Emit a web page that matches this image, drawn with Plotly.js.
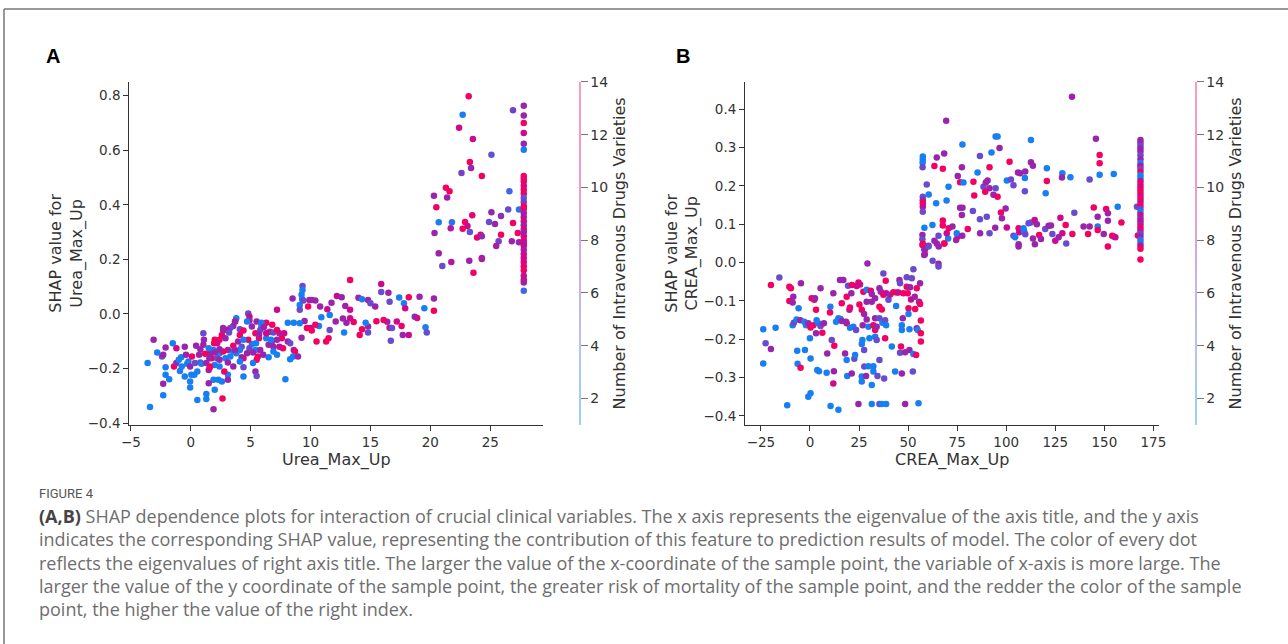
<!DOCTYPE html>
<html>
<head>
<meta charset="utf-8">
<script src="https://cdn.plot.ly/plotly-3.0.1.min.js"></script>
<style>
html,body{margin:0;padding:0;background:#fff;}
#chart{width:1288px;height:644px;}
</style>
</head>
<body>
<div id="chart"></div>
<script>
// ================= Panel A: Urea_Max_Up =================
// upper scattered points (x > 20)
const urea_hi_x = [
23.2,22.7,27.8,26.9,27.8,27.8,27.8,27.8,27.8,22.4,
23.55,25.1,23.3,23.4,22.6,24.3,21.3,21.6,20.3,21.4,
26.6,20.5,20.7,21.8,23.5,22.9,23.1,22.7,23.3,20.35,
21.7,25.1,25.9,26.5,27.4,24.9,25.4,26.9,27.3,25.9,
24.2,23.9,24.3,25.7,25.5,26.8,27.4,20.7,24.3,21.0,
21.75,23.25,23.6,24.3];
const urea_hi_y = [
0.798,0.73,0.763,0.746,0.727,0.70,0.663,0.624,0.602,0.682,
0.641,0.583,0.557,0.535,0.516,0.505,0.462,0.45,0.433,0.427,
0.45,0.391,0.336,0.336,0.362,0.337,0.322,0.312,0.30,0.297,
0.314,0.373,0.359,0.383,0.383,0.337,0.33,0.333,0.297,0.29,
0.29,0.28,0.285,0.266,0.249,0.266,0.263,0.222,0.205,0.176,
0.19,0.195,0.151,0.201];
const urea_hi_c = [
13,2,7.5,6,7.5,13,10,7.5,2,10,
10,5,13,7.5,6,13,13,13,7.5,8,
4,13,2,3,12,13,10,13,5,7.5,
8.5,7.5,7,5.5,3,5.5,7.5,13,13,13,
13,12,7,6,8,7.5,7.5,8,8,5.5,
9,8,12.5,8];
// capped column at x ≈ 27.8
const urea_col_x = [
27.8,27.8,27.8,27.8,27.8,27.8,27.8,27.8,27.8,27.8,
27.8,27.8,27.8,27.8,27.8,27.8,27.8,27.8,27.8,27.8,
27.8,27.8,27.8,27.8,27.8,27.8,27.8,27.8,27.8,27.8];
const urea_col_y = [
0.505,0.495,0.485,0.47,0.455,0.44,0.425,0.41,0.395,0.385,
0.37,0.355,0.34,0.325,0.31,0.30,0.285,0.27,0.26,0.25,
0.235,0.22,0.205,0.19,0.175,0.16,0.14,0.125,0.115,0.085];
const urea_col_c = [
13,12,13,10,13,12,5,6,13,13,
8,9,10,8,11,7.5,10,12,9,10,
8,10,11,10,12,13,9,10,8,4];
// middle band (x 7 to 21)
const urea_mid_x = [
13.3,15.9,9.33,9.33,9.25,9.3,9.1,9.1,8.5,9.4,
9.9,10.1,10.4,9.8,10.8,11.4,11.75,12.2,12.6,12.9,
13.3,14.0,14.3,14.8,15.0,15.4,15.9,16.5,16.6,17.4,
17.8,18.2,17.9,19.1,19.5,20.3,20.3,19.6,19.7,18.9,
18.7,18.2,17.7,17.6,17.2,16.6,16.7,16.8,16.4,16.1,
15.5,14.8,14.6,14.3,14.1,14.8,13.6,13.3,13.0,12.8,
12.7,12.1,11.6,11.5,11.3,11.6,10.9,10.7,10.4,10.0,
10.1,9.7,9.5,9.1,8.6,10.5,9.25,8.95,8.3,7.9,
7.2,8.1];
const urea_mid_y = [
0.124,0.11,0.102,0.088,0.07,0.054,0.033,0.015,0.057,0.049,
0.051,0.051,0.049,0.027,0.027,0.017,0.041,0.066,0.061,0.029,
0.015,0.059,0.054,0.051,0.039,0.027,0.08,0.078,0.045,0.06,
0.039,0.061,0.021,0.063,0.021,0.057,0.012,-0.049,-0.068,-0.015,
-0.01,-0.077,-0.077,-0.044,-0.028,-0.051,-0.098,-0.052,-0.029,-0.022,
-0.027,-0.046,-0.032,-0.056,-0.077,-0.068,-0.03,-0.016,-0.032,-0.068,
-0.017,-0.028,-0.059,-0.089,-0.101,-0.004,-0.012,-0.044,-0.04,-0.052,
-0.061,-0.052,-0.026,-0.034,-0.032,-0.101,-0.087,-0.156,-0.166,-0.239,
0.015,-0.032];
const urea_mid_c = [
13,10,5.5,2,2,2,2,5.5,7.5,5.5,
7.5,7.5,7.5,13,7.5,10,7.5,10,7.5,7.5,
10,7.5,2,7.5,5.5,7.5,5.5,7.5,5.5,2,
2,13,10,7.5,2,7.5,13,2,5.5,13,
7.5,10,7.5,13,10,10,5.5,5.5,7.5,13,
13,7.5,2,13,13,5.5,13,10,7.5,2,
7.5,7.5,5.5,13,13,2,2,2,13,10,
13,13,7.5,2,2,13,7.5,7.5,2,2,
10,2];
// lower band (x −4 to 9)
const urea_lo_x = [
7.4,7.8,7.6,7.2,8.1,8.3,8.6,8.7,8.55,7.7,
7.4,6.9,6.75,7.2,6.5,6.5,6.3,6.8,6.3,5.9,
5.8,5.4,5.7,5.45,5.1,4.9,5.4,5.8,5.6,5.5,
5.2,5.4,5.5,4.4,4.25,4.4,4.4,4.1,3.8,3.55,
3.3,3.1,3.55,3.95,4.1,4.8,4.9,4.9,3.8,3.7,
3.55,3.3,3.0,2.7,2.6,2.9,2.4,2.2,2.0,1.9,
1.6,1.75,2.2,2.4,2.7,2.9,3.1,2.4,2.0,1.6,
1.5,1.9,2.3,2.6,3.1,3.1,2.0,1.5,1.3,1.3,
0.55,2.65,1.9,-3.4,-3.6,-2.8,-3.1,-2.4,-2.3,-2.1,
-1.5,-1.2,-2.1,-2.1,-1.8,-2.3,-2.3,-1.4,-1.2,-1.0,
-0.8,-0.75,-0.9,-0.5,-0.5,-0.4,-0.2,-0.3,-0.05,0.1,
-0.05,-0.05,0.05,0.3,0.55,0.45,0.35,0.8,0.7,0.8,
1.05,1.1,1.2,1.05,0.9,1.3,1.5,1.55,1.6,1.95,
2.0,2.4,2.7,3.2,3.7,4.1,4.4,4.7,5.1,5.5,
5.9,6.1,6.6,6.9,7.2,4.8,4.4,4.25,4.7,4.1,
3.7,5.7,6.3,6.7,6.9,6.05,5.2,3.55,2.8,2.4];
const urea_lo_y = [
-0.071,-0.071,-0.089,-0.095,-0.101,-0.107,-0.132,-0.138,-0.156,-0.126,
-0.12,-0.12,-0.105,-0.15,-0.159,-0.113,-0.089,-0.04,-0.032,-0.044,
-0.059,-0.071,-0.089,-0.107,-0.11,-0.126,-0.132,-0.132,-0.156,-0.168,
-0.18,-0.211,-0.227,-0.162,-0.159,-0.229,-0.195,-0.174,-0.144,-0.138,
-0.156,-0.132,-0.117,-0.101,-0.077,0.002,-0.01,-0.024,-0.016,-0.028,
-0.044,-0.052,-0.059,-0.052,-0.077,-0.089,-0.095,-0.107,-0.095,-0.132,
-0.144,-0.162,-0.162,-0.144,-0.138,-0.162,-0.178,-0.193,-0.187,-0.193,
-0.205,-0.241,-0.241,-0.248,-0.223,-0.241,-0.278,-0.254,-0.293,-0.312,
-0.315,-0.31,-0.349,-0.341,-0.18,-0.141,-0.095,-0.156,-0.15,-0.123,
-0.107,-0.126,-0.195,-0.223,-0.239,-0.256,-0.298,-0.193,-0.18,-0.168,
-0.159,-0.193,-0.209,-0.229,-0.12,-0.15,-0.174,-0.183,-0.193,-0.156,
-0.248,-0.27,-0.223,-0.223,-0.211,-0.117,-0.18,-0.178,-0.15,-0.129,
-0.113,-0.095,-0.146,-0.071,-0.183,-0.18,-0.126,-0.162,-0.195,-0.107,
-0.141,-0.129,-0.059,-0.068,-0.028,-0.056,-0.061,-0.028,-0.046,-0.028,
-0.032,-0.049,-0.065,-0.068,-0.059,-0.095,-0.095,-0.12,-0.144,-0.132,
-0.132,-0.074,-0.071,-0.095,-0.138,-0.15,-0.141,-0.193,-0.211,-0.168];
const urea_lo_c = [
7.5,10,13,7.5,7.5,5.5,7.5,13,2,13,
10,7.5,7.5,2,2,7.5,2,13,13,2,
5.5,13,13,2,2,5.5,2,7.5,13,13,
2,7.5,5.5,13,7.5,2,5.5,2,2,2,
2,7.5,13,7.5,13,5.5,10,7.5,2,13,
7.5,5.5,10,7.5,13,7.5,13,10,13,2,
7.5,13,5.5,2,13,2,7.5,2,2,13,
7.5,2,2,2,2,7.5,2,7.5,2,2,
2,13,7.5,2,2,2,7.5,5.5,7.5,7.5,
2,10,2,2,2,7.5,2,13,7.5,2,
2,2,2,2,7.5,7.5,2,2,7.5,13,
2,2,2,2,2,7.5,5.5,5.5,7.5,7.5,
7.5,7.5,13,5.5,2,7.5,2,7.5,13,13,
7.5,7.5,7.5,5.5,7.5,5.5,13,2,7.5,7.5,
2,7.5,7.5,5.5,13,13,2,5.5,7.5,2,
7.5,7.5,10,2,2,7.5,7.5,7.5,13,7.5];

// ================= Panel B: CREA_Max_Up =================
// upper scattered points (0.15 – 0.45)
const crea_hi_x = [
133.5,69.4,77.7,94.6,95.6,96.6,112.6,145.7,147.6,147.6,
68.4,64.6,57.5,57.5,57.4,57.4,63.4,67.7,77.4,86.6,
92.5,85.4,91.5,101.7,112.6,113.6,120.7,128.6,132.7,128.4,
142.5,147.6,154.8,59.5,60.5,64.3,69.6,70.6,75.3,76.5,
78.2,83.3,83.7,88.4,89.6,90.5,91.5,89.3,93.5,94.6,
95.6,100.3,102.4,103.7,106,107.1,109.7,109.5,109.5,120.1,
120.7];
const crea_hi_y = [
0.433,0.37,0.308,0.329,0.329,0.299,0.32,0.323,0.281,0.259,
0.285,0.274,0.277,0.27,0.261,0.249,0.252,0.245,0.249,0.278,
0.287,0.235,0.249,0.263,0.262,0.253,0.246,0.233,0.223,0.222,
0.217,0.229,0.231,0.204,0.178,0.155,0.162,0.198,0.226,0.21,
0.209,0.211,0.175,0.198,0.209,0.214,0.194,0.185,0.177,0.194,
0.172,0.214,0.217,0.202,0.235,0.233,0.238,0.221,0.186,0.181,
0.213];
const crea_hi_c = [
7.5,7.5,2,2,2,7.5,2,7.5,13,13,
7.5,7.5,2,2,2,5.5,13,13,7.5,5.5,
2,2,13,13,7.5,7.5,2,2,2,7.5,
5.5,2,2,5.5,2,2,2,2,7.5,13,
2,13,13,5.5,7.5,7.5,7.5,13,7.5,5.5,
13,2,5.5,5.5,7.5,7.5,7.5,2,5.5,2,
13];
// lower band of the upper cluster (−0.01 – 0.15)
const crea_band_x = [
57.5,57.5,57.5,57.5,57.5,58.3,57.3,57.3,57.3,58.5,
58.5,60.4,62.4,63.4,64.6,65.5,65.6,67.7,67.7,68.5,
70.4,70.7,69.7,72.6,74.5,75.3,74.8,77.6,80.4,76.5,
77.7,83,77.4,86.6,86.7,90.1,91.5,94.4,97.3,97.8,
99.7,100.3,103.7,104.6,106.3,106.6,106.3,106.3,108.8,109.2,
109.7,111.4,112.6,114.5,115.6,113.6,114.6,116.8,117.7,119.9,
121.6,122.8,123.5,125,126.7,127.6,128.6,130.3,130.6,133.7,
134.7,139.4,142.5,141.7,144.6,146.6,146.6,146.6,149.7,150.9,
151.8,151.8,151.8,154,154.8,155.6,156.8,158.7,166.6,167.1,
57.5,58.3,58.2,60.4,62.5,65.5,65.5,68.4];
const crea_band_y = [
0.172,0.163,0.155,0.146,0.133,0.091,0.072,0.061,0.046,0.033,
0.022,0.044,0.098,0.057,0.05,0.07,0.042,0.11,0.097,0.05,
0.063,0.09,0.077,0.094,0.059,0.068,0.077,0.07,0.088,0.143,
0.143,0.135,0.124,0.113,0.077,0.12,0.077,0.091,0.131,0.116,
0.141,0.092,0.07,0.066,0.09,0.079,0.048,0.042,0.09,0.081,
0.074,0.103,0.105,0.111,0.1,0.063,0.048,0.072,0.062,0.088,
0.096,0.097,0.075,0.057,0.066,0.117,0.077,0.098,0.05,0.075,
0.13,0.094,0.094,0.075,0.144,0.12,0.094,0.085,0.075,0.14,
0.129,0.109,0.042,0.07,0.068,0.066,0.146,0.105,0.146,0.071,
0.049,0.035,0.02,0.042,0.005,-0.003,-0.01,0.05];
const crea_band_c = [
5.5,7.5,13,10,5.5,2,7.5,5.5,13,7.5,
10,7.5,2,7.5,7.5,5.5,7.5,13,13,13,
2,13,10,7.5,7.5,10,2,7.5,13,7.5,
7.5,5.5,7.5,5.5,7.5,5.5,5.5,7.5,13,7.5,
7.5,10,5.5,2,13,10,7.5,7.5,2,2,
5.5,5.5,5.5,10,7.5,7.5,7.5,13,7.5,5.5,
7.5,7.5,5.5,10,7.5,10,10,13,5.5,13,
5.5,7.5,7.5,13,13,7.5,2,13,7.5,13,
7.5,7.5,13,13,13,10,2,13,5.5,13,
13,7.5,7.5,5.5,5.5,7.5,5.5,13];
// capped column at x ≈ 168
const crea_col_x = [
168.4,168.4,168.4,168.4,168.4,168.4,168.4,168.4,168.4,168.4,
168.4,168.4,168.4,168.4,168.4,168.4,168.4,168.4,168.4,168.4,
168.4,168.4,168.4,168.4,168.4,168.4,168.4,168.4,168.4,168.4,
168.4,168.4,168.4,168.4,168.4,168.4,168.4];
const crea_col_y = [
0.32,0.313,0.305,0.298,0.29,0.28,0.27,0.26,0.252,0.245,
0.237,0.228,0.22,0.212,0.204,0.196,0.188,0.18,0.172,0.164,
0.156,0.148,0.14,0.132,0.124,0.116,0.108,0.1,0.092,0.084,
0.076,0.068,0.06,0.052,0.044,0.036,0.008];
const crea_col_c = [
7.5,7.5,5.5,7.5,7.5,5.5,7.5,2,10,5.5,
13,2,2,10,13,10,13,13,10,13,
10,13,5.5,2,10,7.5,10,7.5,13,10,
5.5,7.5,4,2,10,13,13];
// lower cluster (x −25 to 57)
const crea_lo_x = [
-23.8,-23.8,-22.6,-19.9,-19.9,-17.5,-15.6,-11.6,-10.5,-9.7,
-10.5,-8.8,-8.5,-8.8,-8.2,-6.8,-6.5,-6.3,-5.8,-4.9,
-4.6,-4.8,-2.9,-2.0,-2.55,-0.85,0,0.3,-0.85,0.3,
0.85,2.2,0.3,1.7,3.1,2.55,3.1,3.4,4.25,3.7,
4.6,5.4,5.4,6.3,7.1,8.5,8.8,10.4,10.2,10.5,
11.9,11.1,12.4,12.2,11.9,14.5,13.3,14.5,15.3,15.6,
16.2,16.2,17,17.9,18.7,19.4,18.7,18.4,18.7,19,
20.1,20.4,21.1,21.3,21.4,20.4,22.1,22.6,23,23.5,
23.8,24.7,25.2,24.7,25.5,26.4,26.7,26.4,26.4,26.4,
26.9,27.2,27.6,27.6,27.7,28.6,28.9,28.9,28.9,29.3,
29.8,29.8,30.3,31,31.5,31.5,31.5,31.5,32.3,32.3,
32.3,33.2,33.2,33.2,33.2,34,34,34.4,35.4,35.4,
35.4,35.4,35.4,36.1,36.6,36.6,36.9,37.4,37.4,37.8,
38.3,38.3,38.6,38.8,38.8,38.8,40,40.8,41.7,42.5,
43.4,43.9,44.2,45.1,45.6,45.9,45.9,46.4,46.8,46.8,
46.8,47.3,47.6,48.5,48.5,49.3,49.3,49.8,50.2,50.2,
50.7,50.7,51.5,51.9,52.4,52.7,53.4,53.6,54.1,54.4,
54.4,54.9,55.3,55.6,56.1,56.1,56.5,56.5,56.5,51,
52.7];
const crea_lo_y = [
-0.174,-0.263,-0.21,-0.058,-0.225,-0.17,-0.039,-0.372,-0.063,-0.067,
-0.1,-0.104,-0.089,-0.163,-0.157,-0.148,-0.23,-0.264,-0.119,-0.15,
-0.054,-0.274,-0.154,-0.163,-0.228,-0.158,-0.197,-0.25,-0.35,-0.341,
-0.093,-0.097,-0.169,-0.163,-0.123,-0.093,-0.184,-0.15,-0.158,-0.28,
-0.283,-0.067,-0.165,-0.183,-0.158,-0.287,-0.237,-0.115,-0.13,-0.374,
-0.08,-0.202,-0.217,-0.283,-0.315,-0.384,-0.154,-0.145,-0.045,-0.147,
-0.152,-0.106,-0.045,-0.237,-0.089,-0.06,-0.158,-0.154,-0.254,-0.296,
-0.123,-0.17,-0.08,-0.289,-0.058,-0.117,-0.167,-0.251,-0.241,-0.176,
-0.061,-0.052,-0.109,-0.369,-0.057,-0.123,-0.202,-0.212,-0.297,-0.31,
-0.163,-0.076,-0.134,-0.228,-0.271,-0.296,-0.071,-0.102,-0.148,-0.002,
-0.167,-0.27,-0.197,-0.073,-0.082,-0.102,-0.319,-0.369,-0.27,-0.284,
-0.163,-0.176,-0.145,-0.193,-0.093,-0.167,-0.202,-0.296,-0.067,-0.115,
-0.145,-0.254,-0.369,-0.076,-0.369,-0.122,-0.157,-0.028,-0.084,-0.302,
-0.15,-0.197,-0.047,-0.08,-0.163,-0.369,-0.097,-0.084,-0.219,-0.077,
-0.284,-0.113,-0.078,-0.078,-0.045,-0.054,-0.235,-0.219,-0.289,-0.163,
-0.176,-0.145,-0.08,-0.234,-0.369,-0.038,-0.063,-0.08,-0.119,-0.134,
-0.174,-0.228,-0.096,-0.041,-0.284,-0.238,-0.089,-0.121,-0.241,-0.067,
-0.171,-0.176,-0.367,-0.102,-0.054,-0.108,-0.151,-0.184,-0.206,-0.064,
-0.017];
const crea_lo_c = [
2,2,5.5,13,7.5,2,5.5,2,13,13,
13,7.5,7.5,2,5.5,2,2,2,2,7.5,
7.5,13,2,2,2,7.5,2,2,2,2,
13,13,13,13,13,7.5,7.5,2,2,2,
2,7.5,5.5,13,7.5,2,7.5,2,13,2,
7.5,5.5,13,7.5,10,2,2,2,7.5,2,
7.5,13,7.5,7.5,13,5.5,13,7.5,2,2,
7.5,2,7.5,7.5,13,13,2,5.5,2,5.5,
10,13,13,7.5,10,13,2,2,2,2,
7.5,13,7.5,5.5,5.5,7.5,2,7.5,7.5,7.5,
2,2,2,13,7.5,7.5,2,2,2,2,
13,13,7.5,2,7.5,7.5,5.5,5.5,7.5,13,
5.5,5.5,5.5,7.5,2,13,2,5.5,13,5.5,
5.5,13,13,10,2,2,5.5,7.5,2,13,
2,2,13,10,7.5,5.5,5.5,13,7.5,2,
2,7.5,13,7.5,7.5,5.5,13,13,13,2,
2,7.5,10,5.5,5.5,2,7.5,13,13,13,
7.5,2,2,7.5,7.5,13,13,13,13,7.5,
5.5];

// ================= texts =================
const colorbarTicks = [2, 4, 6, 8, 10, 12, 14];
const xTitleA = 'Urea_Max_Up';
const xTitleB = 'CREA_Max_Up';
const yTitleA = 'SHAP value for<br>Urea_Max_Up';
const yTitleB = 'SHAP value for<br>CREA_Max_Up';
const cbTitle = 'Number of Intravenous Drugs Varieties';
const panelLabels = ['A', 'B'];
const figLabel = 'FIGURE 4';
const captionLines = [
  '<b><span style="color:#444">(A,B)</span></b> SHAP dependence plots for interaction of crucial clinical variables. The x axis represents the eigenvalue of the axis title, and the y axis',
  'indicates the corresponding SHAP value, representing the contribution of this feature to prediction results of model. The color of every dot',
  'reflects the eigenvalues of right axis title. The larger the value of the x-coordinate of the sample point, the variable of x-axis is more large. The',
  'larger the value of the y coordinate of the sample point, the greater risk of mortality of the sample point, and the redder the color of the sample',
  'point, the higher the value of the right index.'
];

const urea_x = [].concat(urea_lo_x, urea_mid_x, urea_hi_x, urea_col_x);
const urea_shap = [].concat(urea_lo_y, urea_mid_y, urea_hi_y, urea_col_y);
const urea_drugs = [].concat(urea_lo_c, urea_mid_c, urea_hi_c, urea_col_c);
const crea_x = [].concat(crea_lo_x, crea_band_x, crea_hi_x, crea_col_x);
const crea_shap = [].concat(crea_lo_y, crea_band_y, crea_hi_y, crea_col_y);
const crea_drugs = [].concat(crea_lo_c, crea_band_c, crea_hi_c, crea_col_c);

// SHAP red_blue colormap (approx.)
const shapScale = [[0,'#008bfb'],[0.25,'rgb(73,99,228)'],[0.5,'rgb(155,36,173)'],[0.75,'rgb(223,0,135)'],[1,'#ff0051']];
const shapScaleFaded = [[0,'rgba(0,139,251,0.4)'],[0.25,'rgba(73,99,228,0.4)'],[0.5,'rgba(155,36,173,0.4)'],[0.75,'rgba(223,0,135,0.4)'],[1,'rgba(255,0,81,0.4)']];

const W = 1288, H = 644;
const px = v => v / W;
const py = v => 1 - v / H;

const FONT = 'DejaVu Sans, sans-serif';
const tickFont = {family: FONT, size: 13.5, color: '#333'};
const cbTickFont = {family: FONT, size: 14, color: '#333'};
const titleFont = {family: FONT, size: 16, color: '#333'};

function cbar(xpos) {
  return {
    x: px(xpos), xanchor: 'left', xpad: 0, ypad: 0,
    y: (py(425) + py(81.7)) / 2, yanchor: 'middle',
    lenmode: 'pixels', len: 343, thickness: 2, outlinewidth: 0,
    tickmode: 'array', tickvals: colorbarTicks,
    ticks: 'outside', ticklen: 7, tickcolor: '#777', tickwidth: 1,
    tickfont: cbTickFont,
    title: {text: cbTitle, side: 'right', font: titleFont}
  };
}

const traces = [
  {type: 'scatter', mode: 'markers', x: urea_x, y: urea_shap, xaxis: 'x', yaxis: 'y',
   marker: {size: 6.5, color: urea_drugs, cmin: 1, cmax: 14, colorscale: shapScale, showscale: false, line: {width: 0}},
   hoverinfo: 'x+y', showlegend: false},
  {type: 'scatter', mode: 'markers', x: [urea_x[0]], y: [urea_shap[0]], xaxis: 'x', yaxis: 'y',
   marker: {size: 1, opacity: 0, color: [urea_drugs[0]], cmin: 1, cmax: 14, colorscale: shapScaleFaded, showscale: true, colorbar: cbar(578.5)},
   hoverinfo: 'skip', showlegend: false},
  {type: 'scatter', mode: 'markers', x: crea_x, y: crea_shap, xaxis: 'x2', yaxis: 'y2',
   marker: {size: 6.5, color: crea_drugs, cmin: 1, cmax: 14, colorscale: shapScale, showscale: false, line: {width: 0}},
   hoverinfo: 'x+y', showlegend: false},
  {type: 'scatter', mode: 'markers', x: [crea_x[0]], y: [crea_shap[0]], xaxis: 'x2', yaxis: 'y2',
   marker: {size: 1, opacity: 0, color: [crea_drugs[0]], cmin: 1, cmax: 14, colorscale: shapScaleFaded, showscale: true, colorbar: cbar(1194.5)},
   hoverinfo: 'skip', showlegend: false}
];

const axBase = {
  showgrid: false, zeroline: false, showline: true, linecolor: '#333', linewidth: 1,
  ticks: 'outside', ticklen: 5, tickcolor: '#333', tickwidth: 1, tickfont: tickFont, mirror: false
};

const annotations = [
  {text: '<b>' + panelLabels[0] + '</b>', x: px(44), y: py(56), xref: 'paper', yref: 'paper', xanchor: 'left', yanchor: 'middle', showarrow: false, font: {family: 'Liberation Sans, Arial, sans-serif', size: 20, color: '#000'}},
  {text: '<b>' + panelLabels[1] + '</b>', x: px(674), y: py(56), xref: 'paper', yref: 'paper', xanchor: 'left', yanchor: 'middle', showarrow: false, font: {family: 'Liberation Sans, Arial, sans-serif', size: 20, color: '#000'}},
  {text: figLabel, x: px(37), y: py(493), xref: 'paper', yref: 'paper', xanchor: 'left', yanchor: 'middle', showarrow: false, font: {family: 'Liberation Sans Narrow, Roboto, sans-serif', size: 13, color: '#555'}}
];
captionLines.forEach((t, i) => {
  annotations.push({text: t, x: px(37), y: py(516 + i * 23.3), xref: 'paper', yref: 'paper', xanchor: 'left', yanchor: 'middle', showarrow: false, align: 'left', font: {family: 'Open Sans, sans-serif', size: 18, color: '#6e6e6e'}});
});

const layout = {
  width: W, height: H,
  margin: {l: 0, r: 0, t: 0, b: 0},
  paper_bgcolor: '#fff', plot_bgcolor: '#fff',
  showlegend: false,
  xaxis: Object.assign({}, axBase, {domain: [px(129.3), px(543.3)], range: [-5.13, 29.43], dtick: 5, tick0: 0, anchor: 'y',
    title: {text: xTitleA, font: titleFont, standoff: 3}}),
  yaxis: Object.assign({}, axBase, {domain: [py(425), py(81.7)], range: [-0.407, 0.851], dtick: 0.2, tick0: 0, tickformat: '.1f', anchor: 'x',
    title: {text: yTitleA, font: titleFont, standoff: 1}}),
  xaxis2: Object.assign({}, axBase, {domain: [px(745), px(1159.3)], range: [-33.1, 178.0], dtick: 25, tick0: 0, anchor: 'y2',
    title: {text: xTitleB, font: titleFont, standoff: 3}}),
  yaxis2: Object.assign({}, axBase, {domain: [py(425), py(81.7)], range: [-0.4235, 0.472], dtick: 0.1, tick0: 0, tickformat: '.1f', anchor: 'x2',
    title: {text: yTitleB, font: titleFont, standoff: 1}}),
  annotations: annotations,
  shapes: [
    {type: 'line', xref: 'paper', yref: 'paper', x0: px(4), x1: 1, y0: py(9), y1: py(9), line: {color: '#777', width: 1.5}},
    {type: 'line', xref: 'paper', yref: 'paper', x0: px(4), x1: px(4), y0: py(9), y1: 0, line: {color: '#777', width: 1.5}}
  ]
};

Plotly.newPlot('chart', traces, layout, {displayModeBar: false, staticPlot: true});
</script>
</body>
</html>
